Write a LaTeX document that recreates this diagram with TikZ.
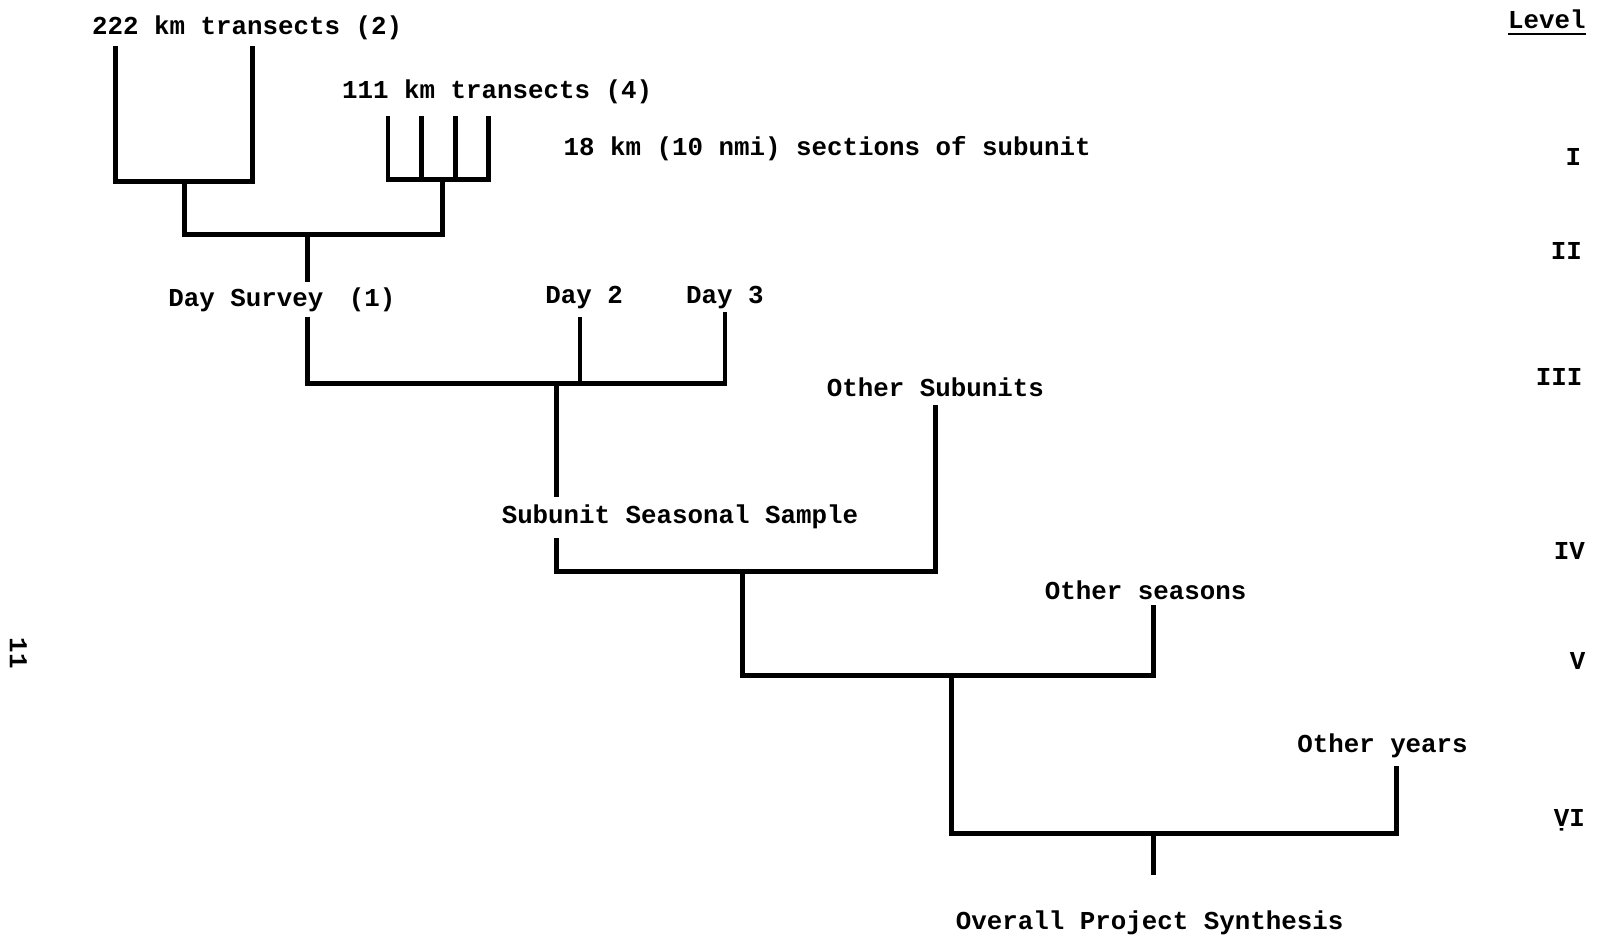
\documentclass[tikz,border=0pt]{standalone}
\usepackage{fontspec}
\setmainfont{Liberation Mono}
\begin{document}
\begin{tikzpicture}[x=1pt,y=-1pt,
  lbl/.style={font=\fontsize{25.3}{30}\selectfont\bfseries, inner sep=0pt, anchor=base},
  tree/.style={line width=4.8pt, line join=miter}]
\useasboundingbox (0,0) rectangle (1568,920);
% labels
\node[lbl] (t222) at (242,34) {222 km transects (2)};
\node[lbl] (t111) at (487,96) {111 km transects (4)};
\node[lbl] (t18) at (810,152) {18 km (10 nmi) sections of subunit};
\node[lbl] (tday1) at (276,300) {Day Survey\hspace{25pt}(1)};
\node[lbl] (tday2) at (572,297) {Day 2};
\node[lbl] (tday3) at (710,297) {Day 3};
\node[lbl] (tosub) at (916,388) {Other Subunits};
\node[lbl] (tsss) at (666,513) {Subunit Seasonal Sample};
\node[lbl] (toseas) at (1122,587) {Other seasons};
\node[lbl] (toyear) at (1354,737) {Other years};
\node[lbl] (tops) at (1126,910) {Overall Project Synthesis};
% level column
\node[lbl] (lvl) at (1515,28) {Level};
\draw[line width=2pt] ([yshift=-5pt]lvl.base west) -- ([yshift=-5pt]lvl.base east);
\node[lbl] (l1) at (1541,162) {I};
\node[lbl] (l2) at (1534,254) {II};
\node[lbl] (l3) at (1527,378) {III};
\node[lbl] (l4) at (1537,548) {IV};
\node[lbl] (l5) at (1545,656) {V};
\node[lbl] (l6) at (1537,809) {\d{V}I};
% page number
\node[lbl, anchor=center, rotate=-90] (pg) at (18,640) {11};
% coordinates
\coordinate (a1) at (113,45);
\coordinate (a2) at (247,45);
\coordinate (a2b) at (247,178);
\coordinate (c1) at (380,114);
\coordinate (c2) at (413,114);
\coordinate (c3) at (446,114);
\coordinate (c4) at (478,114);
\coordinate (c2b) at (413,176);
\coordinate (c3b) at (446,176);
\coordinate (c4b) at (478,176);
\coordinate (j1) at (181,178);
\coordinate (j2) at (433,176);
\coordinate (j2b) at (433,230);
\coordinate (d0) at (301,230);
\coordinate (d0b) at (301,276);
\coordinate (d1) at (301,310);
\coordinate (d2) at (568,310);
\coordinate (d2b) at (568,376);
\coordinate (d3) at (710,306);
\coordinate (d3b) at (710,376);
\coordinate (s0) at (545,376);
\coordinate (s0b) at (545,487);
\coordinate (s1) at (545,527);
\coordinate (os) at (916,397);
\coordinate (osb) at (916,560);
\coordinate (v0) at (727,560);
\coordinate (oe) at (1130,593);
\coordinate (oeb) at (1130,662);
\coordinate (w0) at (932,662);
\coordinate (oy) at (1368,750);
\coordinate (oyb) at (1368,816);
\coordinate (z0) at (1130,816);
\coordinate (z1) at (1130,857);
% level I
\draw[tree] (a1) |- (a2b) -- (a2);
\draw[tree] (c1) |- (c4b) -- (c4);
\draw[tree] (c2) -- (c2b);
\draw[tree] (c3) -- (c3b);
% level II
\draw[tree] (j1) |- (j2b) -- (j2);
\draw[tree] (d0) -- (d0b);
% level III
\draw[tree] (d1) |- (d3b) -- (d3);
\draw[tree] (d2) -- (d2b);
\draw[tree] (s0) -- (s0b);
% level IV
\draw[tree] (s1) |- (osb) -- (os);
% level V
\draw[tree] (v0) |- (oeb) -- (oe);
% level VI
\draw[tree] (w0) |- (oyb) -- (oy);
\draw[tree] (z0) -- (z1);
\end{tikzpicture}
\end{document}
